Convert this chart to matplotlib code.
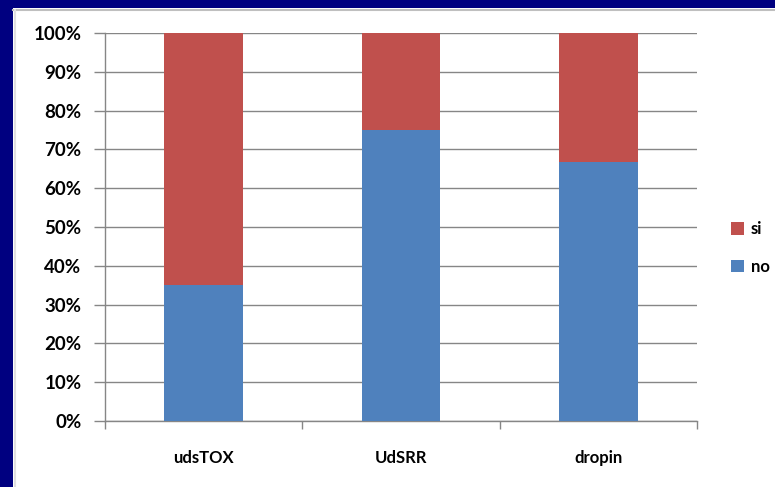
import matplotlib
matplotlib.use("Agg")
import matplotlib.pyplot as plt
from matplotlib.patches import Rectangle
from matplotlib.lines import Line2D
from matplotlib.ticker import PercentFormatter

categories = ["udsTOX", "UdSRR", "dropin"]
no_vals = [35.0, 75.0, 66.7]
si_vals = [65.0, 25.0, 33.3]

NAVY = "#000080"
BLUE = "#4F81BD"
RED = "#C0504D"
GRID = "#868686"

plt.rcParams["font.family"] = ["Lato", "DejaVu Sans"]
plt.rcParams["font.weight"] = "bold"

fig = plt.figure(figsize=(7.75, 4.87), dpi=100, facecolor="white")

# navy frame on the top and left, thin grey border line on the white panel
fig.patches.append(Rectangle((0, 1 - 8 / 487), 1, 8 / 487, transform=fig.transFigure,
                             facecolor=NAVY, edgecolor="none", zorder=-10))
fig.patches.append(Rectangle((0, 0), 13 / 775, 1, transform=fig.transFigure,
                             facecolor=NAVY, edgecolor="none", zorder=-10))
fig.lines.append(Line2D([13 / 775, 1], [1 - 9.5 / 487] * 2, transform=fig.transFigure,
                        color="#BFBFBF", linewidth=1.5))
fig.lines.append(Line2D([14.5 / 775] * 2, [0, 1 - 9.5 / 487], transform=fig.transFigure,
                        color="#E0E0E0", linewidth=1.5))

ax = fig.add_axes([105 / 775, 66 / 487, 592 / 775, 388 / 487])
ax.set_facecolor("none")
ax.set_zorder(1)

x = range(len(categories))
ax.bar(x, no_vals, width=0.4, color=BLUE, label="no", zorder=3)
ax.bar(x, si_vals, width=0.4, bottom=no_vals, color=RED, label="si", zorder=3)

ax.set_xlim(-0.5, 2.5)
ax.set_ylim(0, 100)
ax.set_yticks(range(0, 101, 10))
ax.yaxis.set_major_formatter(PercentFormatter(decimals=0))
ax.grid(axis="y", color=GRID, linewidth=1, zorder=0)

ax.set_xticks(list(x))
ax.set_xticklabels(categories)
ax.set_xticks([-0.5, 0.5, 1.5, 2.5], minor=True)
ax.tick_params(axis="x", which="major", length=0, pad=21, labelsize=12)
ax.tick_params(axis="x", which="minor", length=6, color=GRID, width=1)
ax.tick_params(axis="y", length=8, color=GRID, width=1, labelsize=13.5, pad=9)

for side in ["top", "right"]:
    ax.spines[side].set_visible(False)
for side in ["left", "bottom"]:
    ax.spines[side].set_color(GRID)
    ax.spines[side].set_linewidth(1)

handles, labels = ax.get_legend_handles_labels()
fig.legend(handles[::-1], labels[::-1], loc="center left",
           bbox_to_anchor=(716 / 775, 1 - 248 / 487), frameon=False,
           handlelength=0.8, handleheight=0.8, handletextpad=0.4,
           labelspacing=1.3, fontsize=12)

fig.savefig("out.png", dpi=100)
